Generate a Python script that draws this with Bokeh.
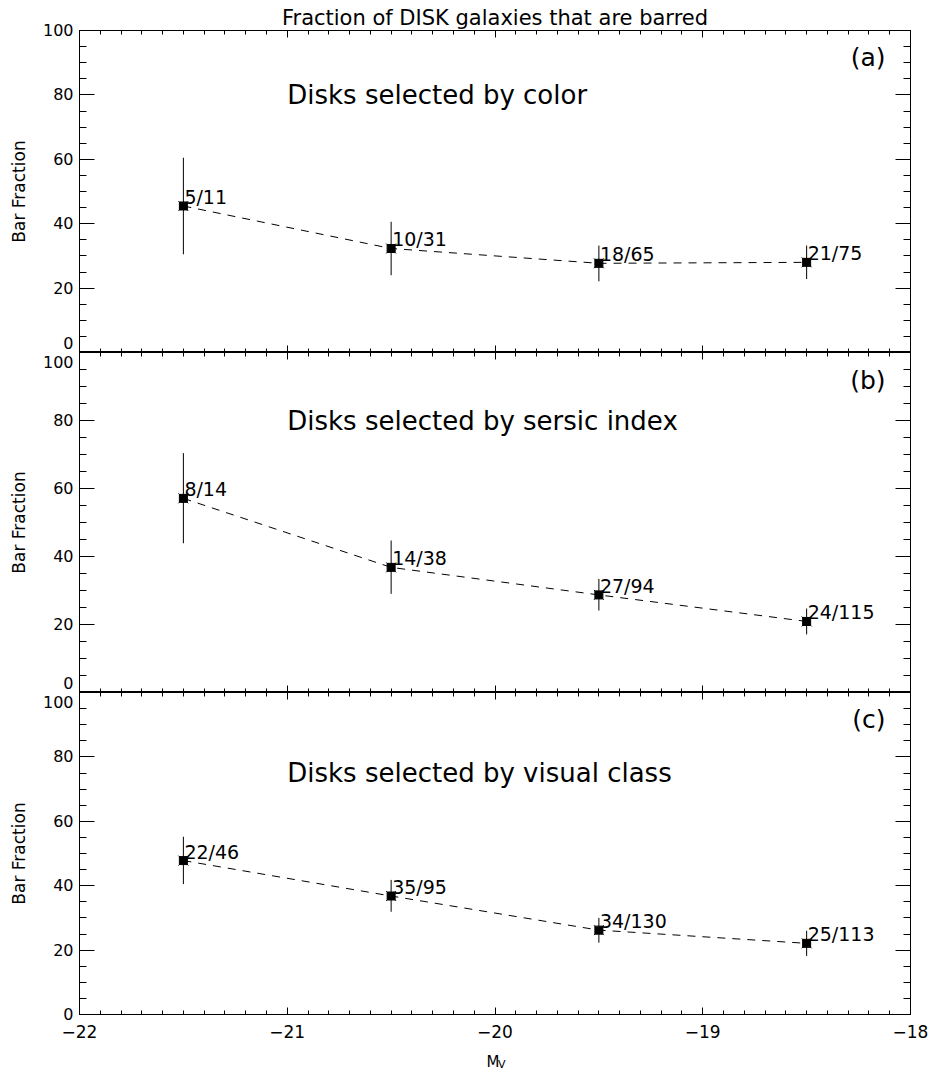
from bokeh.plotting import figure
from bokeh.layouts import column
from bokeh.models import LinearAxis, FixedTicker, Label, ColumnDataSource, Range1d
from bokeh.embed import file_html
from bokeh.resources import INLINE
from bokeh.core.properties import value

# ---------------- data ----------------
mag = [-21.5, -20.5, -19.5, -18.5]

labels_a = ["5/11", "10/31", "18/65", "21/75"]
frac_a = [45.5, 32.3, 27.7, 28.0]
lo_a = [30.5, 24.0, 22.1, 22.8]
hi_a = [60.5, 40.6, 33.2, 33.2]

labels_b = ["8/14", "14/38", "27/94", "24/115"]
frac_b = [57.1, 36.8, 28.7, 20.9]
lo_b = [43.9, 29.0, 24.1, 17.1]
hi_b = [70.4, 44.7, 33.4, 24.7]

labels_c = ["22/46", "35/95", "34/130", "25/113"]
frac_c = [47.8, 36.8, 26.2, 22.1]
lo_c = [40.5, 31.9, 22.3, 18.2]
hi_c = [55.2, 41.8, 30.0, 26.0]

x_major = [-22, -21, -20, -19, -18]
x_minor = [round(-22 + 0.1 * i, 2) for i in range(41)]
y_major = [0, 20, 40, 60, 80, 100]
y_minor = list(range(0, 101, 5))

title_text = "Fraction of DISK galaxies that are barred"
FONT = "DejaVu Sans"
TICK_FONT = "16px"


def style_axis(ax, tin, minin, show_labels):
    ax.major_tick_in = tin
    ax.major_tick_out = 0
    ax.minor_tick_in = minin
    ax.minor_tick_out = 0
    ax.axis_line_color = "black"
    ax.axis_line_width = 1
    ax.major_tick_line_color = "black"
    ax.minor_tick_line_color = "black"
    ax.major_label_text_font = FONT
    ax.major_label_text_color = "black"
    if not show_labels:
        ax.major_label_overrides = {t: "" for t in ax.ticker.ticks}
        ax.major_label_text_font_size = "0px"
        ax.major_label_standoff = 0


def make_panel(frac, lo, hi, labels, desc, desc_y, tag, frame_h, top_b, bottom_b,
               bottom_labels, y_overrides):
    p = figure(frame_width=831, frame_height=frame_h,
               x_range=Range1d(-22, -18), y_range=Range1d(0, 100),
               output_backend="svg", toolbar_location=None,
               min_border_left=79, min_border_right=22,
               min_border_top=top_b, min_border_bottom=bottom_b,
               x_axis_location=None, y_axis_location=None)
    p.outline_line_color = "black"
    p.xgrid.visible = False
    p.ygrid.visible = False
    p.background_fill_color = "white"
    p.border_fill_color = "white"

    left = LinearAxis(ticker=FixedTicker(ticks=y_major, minor_ticks=y_minor))
    style_axis(left, 15, 7, True)
    left.major_label_text_font_size = TICK_FONT
    left.major_label_standoff = 6
    left.major_label_overrides = y_overrides
    left.major_label_text_line_height = 0.0
    left.axis_label = "Bar Fraction"
    left.axis_label_text_font = FONT
    left.axis_label_text_font_size = "17px"
    left.axis_label_text_font_style = "normal"
    left.axis_label_text_color = "black"
    left.axis_label_standoff = 11
    p.add_layout(left, "left")

    right = LinearAxis(ticker=FixedTicker(ticks=y_major, minor_ticks=y_minor))
    style_axis(right, 15, 7, False)
    p.add_layout(right, "right")

    top = LinearAxis(ticker=FixedTicker(ticks=x_major, minor_ticks=x_minor))
    style_axis(top, 7, 4, False)
    p.add_layout(top, "above")

    bottom = LinearAxis(ticker=FixedTicker(ticks=x_major, minor_ticks=x_minor))
    style_axis(bottom, 7, 4, bottom_labels)
    if bottom_labels:
        bottom.major_label_text_font_size = "17px"
        bottom.major_label_standoff = 10
    p.add_layout(bottom, "below")

    src = ColumnDataSource(dict(x=mag, y=frac, lo=lo, hi=hi, lab=labels))
    p.line("x", "y", source=src, line_dash="8 7", line_color="black", line_width=1)
    p.segment(x0="x", y0="lo", x1="x", y1="hi", source=src, line_color="black", line_width=1)
    p.scatter("x", "y", source=src, marker="square", size=8, fill_color="black", line_color="black")
    p.scatter("x", "y", source=src, marker="x", size=14, line_color="black", line_width=1)
    p.text("x", "y", text="lab", source=src, x_offset=1, y_offset=-9,
           text_font=value(FONT), text_font_size="19px", text_color="black",
           text_align="left", text_baseline="alphabetic")

    p.add_layout(Label(x=-21.0, y=desc_y, text=desc, text_font=FONT, text_font_size="26px",
                       text_color="black", text_align="left", text_baseline="alphabetic"))
    p.add_layout(Label(x=-18.12, y=91.7, text=tag, text_font=FONT, text_font_size="25px",
                       text_color="black", text_align="right", text_baseline="middle"))
    return p


pa = make_panel(frac_a, lo_a, hi_a, labels_a, "Disks selected by color", 80, "(a)",
                322, 30, 0, False, {0: "0\n ", 100: " \n100"})
pb = make_panel(frac_b, lo_b, hi_b, labels_b, "Disks selected by sersic index", 80, "(b)",
                340, 0, 0, False, {0: "0\n ", 100: " \n100"})
pc = make_panel(frac_c, lo_c, hi_c, labels_c, "Disks selected by visual class", 75, "(c)",
                322, 0, 30, True, {100: " \n100"})

pa.title.text = title_text
pa.title.align = "center"
pa.title.text_font = FONT
pa.title.text_font_size = "21px"
pa.title.text_font_style = "normal"
pa.title.text_color = "black"
pa.title.standoff = 2
pa.title.offset = 0

# strip holding the x-axis title  M_V  (pixel-scaled y range)
pm = figure(frame_width=831, frame_height=28, x_range=pc.x_range, y_range=Range1d(0, 28),
            output_backend="svg", toolbar_location=None,
            min_border_left=79, min_border_right=22, min_border_top=0, min_border_bottom=0,
            x_axis_location=None, y_axis_location=None)
pm.outline_line_color = None
pm.xgrid.visible = False
pm.ygrid.visible = False
pm.text(x=[-20.041], y=[11], text=["M"], text_font=value(FONT), text_font_size="15px",
        text_color="black", text_align="left", text_baseline="alphabetic")
pm.text(x=[-19.985], y=[8], text=["V"], text_font=value(FONT), text_font_size="11px",
        text_color="black", text_align="left", text_baseline="alphabetic")

layout = column(pa, pb, pc, pm, spacing=0)
open("out.html", "w").write(file_html(layout, INLINE))
